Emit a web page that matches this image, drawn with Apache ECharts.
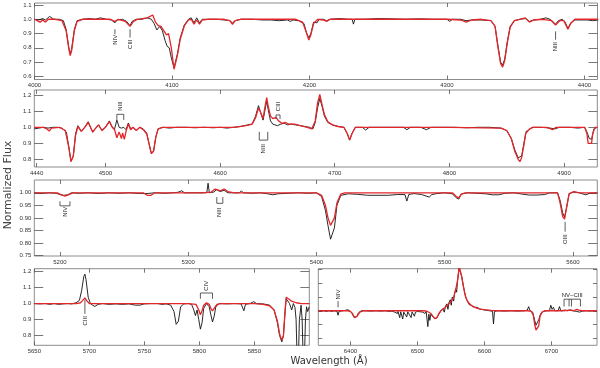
<!DOCTYPE html>
<html>
<head>
<meta charset="utf-8">
<script src="https://cdn.jsdelivr.net/npm/echarts@6/dist/echarts.min.js"></script>
<style>
  html, body { margin: 0; padding: 0; background: #fff; }
  #chart { width: 600px; height: 368px; }
</style>
</head>
<body>
<div id="chart"></div>
<script>
// ---- data: [wavelength (A), normalized flux] ----

// Panel 1: 4000-4410
var P1_OBS = [[4000,1.0],[4003,0.995],[4006,1.005],[4008,0.995],[4011,1.02],[4014,1.0],[4018,1.0],[4021,0.99],[4023,0.93],[4025,0.8],[4026,0.76],[4027,0.79],[4029,0.93],[4031,0.99],[4035,1.0],[4040,1.005],[4044,1.0],[4048,1.01],[4052,1.0],[4056,0.995],[4058.5,0.975],[4060,0.995],[4064,1.0],[4067,0.985],[4069.5,0.955],[4071,0.985],[4074,1.0],[4078,1.0],[4082,1.01],[4085,1.0],[4087,0.97],[4089,0.925],[4091,0.95],[4093,0.92],[4095,0.85],[4096.5,0.81],[4098,0.8],[4099.5,0.73],[4101.5,0.66],[4102.5,0.67],[4104,0.76],[4106,0.87],[4109,0.96],[4112,1.0],[4114,1.01],[4116,0.975],[4118,1.01],[4120,0.975],[4122,1.0],[4126,1.0],[4132,1.0],[4138,0.995],[4142,0.99],[4144,0.975],[4146,0.99],[4150,1.0],[4158,1.0],[4166,0.995],[4172,0.995],[4178,0.99],[4184,0.995],[4186,0.985],[4188,0.995],[4192,0.99],[4196,0.97],[4198,0.9],[4199.5,0.87],[4201,0.9],[4203,0.98],[4205.5,0.975],[4207,1.0],[4210,1.0],[4212.5,0.99],[4215,1.0],[4222,1.005],[4228,1.0],[4231,1.0],[4232,0.966],[4233,1.0],[4240,1.0],[4250,1.005],[4260,1.003],[4270,1.0],[4280,1.003],[4290,1.0],[4300,1.0],[4302,0.985],[4304,1.0],[4310,1.0],[4314,0.99],[4318,0.995],[4325,0.995],[4332,0.99],[4335,0.95],[4337,0.82],[4339,0.7],[4340.5,0.68],[4342,0.72],[4344,0.85],[4346,0.95],[4349,0.99],[4353,1.0],[4357,1.005],[4360,0.985],[4363,0.995],[4368,1.0],[4372,1.01],[4375,1.0],[4377,0.985],[4379,0.965],[4381,0.99],[4384,1.0],[4386,0.98],[4388,0.935],[4390,0.975],[4393,0.995],[4398,0.995],[4402,0.995],[4406,0.99],[4410,0.995]];
var P1_MOD = [[4000,1.0],[4002,0.99],[4004,0.98],[4006,0.995],[4008,0.98],[4010,1.0],[4015,1.0],[4020,0.99],[4023,0.92],[4025,0.79],[4026,0.745],[4027,0.78],[4029,0.92],[4031,0.985],[4035,1.0],[4045,1.0],[4055,1.0],[4058.5,0.985],[4061,1.0],[4066,0.985],[4069.5,0.95],[4072,0.985],[4075,1.0],[4082,1.01],[4086,1.03],[4088,0.98],[4090,0.955],[4092,0.95],[4094,0.92],[4096,0.89],[4097.5,0.9],[4099.5,0.8],[4101.5,0.65],[4102.5,0.655],[4104,0.75],[4106,0.86],[4109,0.955],[4112,0.995],[4114,1.0],[4116,0.965],[4118,0.995],[4120,0.965],[4122,0.995],[4126,1.0],[4138,1.0],[4142,0.99],[4144,0.965],[4146,0.99],[4150,1.0],[4170,1.0],[4190,1.0],[4195,0.98],[4198,0.9],[4199.5,0.855],[4201,0.89],[4203,0.97],[4206,1.0],[4210,0.995],[4212.5,0.985],[4215,1.0],[4250,1.0],[4300,1.0],[4310,0.995],[4314,0.98],[4318,0.995],[4325,1.0],[4332,0.99],[4335,0.95],[4337,0.81],[4339,0.69],[4340.5,0.665],[4342,0.71],[4344,0.84],[4346,0.945],[4349,0.99],[4353,1.0],[4357,1.01],[4360,0.98],[4363,0.995],[4370,1.0],[4376,0.99],[4379,0.96],[4382,0.99],[4385,0.99],[4388,0.93],[4390,0.97],[4393,1.0],[4400,1.0],[4410,1.0]];

// Panel 2: 4438-4929
var P2_OBS = [[4438,0.99],[4442,0.995],[4446,1.0],[4450,0.995],[4454,1.0],[4458,1.0],[4462,0.995],[4466,0.97],[4468,0.88],[4470,0.79],[4471,0.78],[4472,0.82],[4474,0.96],[4476,1.01],[4479,0.975],[4482,1.0],[4485,1.035],[4487,1.0],[4489,0.97],[4491,0.99],[4494,1.015],[4497,0.98],[4500,1.0],[4503.5,1.04],[4506,1.0],[4508,0.99],[4510,1.045],[4512,1.0],[4514,0.995],[4516,1.0],[4518,0.985],[4520,1.027],[4522,0.99],[4524,1.0],[4527,0.98],[4530,1.0],[4533,0.99],[4536,0.965],[4538,0.9],[4540,0.84],[4541,0.83],[4542,0.85],[4544,0.94],[4546,0.99],[4550,1.0],[4556,0.995],[4562,1.0],[4570,1.0],[4578,0.997],[4586,1.0],[4594,0.997],[4600,1.0],[4606,0.995],[4612,1.0],[4618,1.005],[4624,1.015],[4628,1.02],[4631,1.07],[4633.5,1.135],[4635,1.1],[4637.5,1.045],[4639,1.1],[4640.7,1.165],[4642,1.11],[4644,1.04],[4646,1.02],[4648,1.015],[4650,1.01],[4653,1.02],[4656,1.025],[4659,1.015],[4662,1.02],[4666,1.015],[4670,1.01],[4674,1.005],[4678,1.0],[4681,0.99],[4683,1.03],[4685,1.12],[4687,1.18],[4689,1.13],[4691,1.07],[4694,1.03],[4698,1.015],[4703,1.005],[4708,1.0],[4711,0.96],[4713,0.92],[4715,0.96],[4718,1.0],[4724,1.0],[4727,0.983],[4730,1.0],[4740,1.0],[4750,1.0],[4760,1.0],[4763,0.985],[4766,1.0],[4775,1.0],[4780,0.985],[4784,1.0],[4795,1.0],[4805,1.0],[4815,0.997],[4825,1.0],[4835,1.0],[4845,0.995],[4850,0.98],[4854,0.93],[4857,0.86],[4860,0.81],[4861.5,0.8],[4863,0.82],[4865,0.9],[4867,0.975],[4869,0.98],[4872,1.0],[4880,1.0],[4888,0.995],[4892,0.99],[4896,1.0],[4905,1.0],[4912,0.995],[4918,1.0],[4920,0.97],[4922,0.93],[4924,0.925],[4926,0.99],[4929,1.0]];
var P2_MOD = [[4438,1.0],[4446,1.0],[4449,0.99],[4451,0.977],[4453,0.995],[4460,1.0],[4465,0.98],[4468,0.88],[4470,0.785],[4471,0.775],[4472,0.82],[4474,0.95],[4476,1.005],[4479,0.975],[4482,1.0],[4485,1.03],[4487,1.0],[4489,0.97],[4491,0.99],[4494,1.015],[4497,0.98],[4500,1.0],[4503.5,1.035],[4506,1.0],[4508,0.985],[4510,0.935],[4512,0.97],[4514,0.93],[4515,0.965],[4516.5,0.925],[4518,0.975],[4520,1.02],[4522,0.985],[4524,1.0],[4527,0.98],[4530,1.0],[4533,0.985],[4536,0.96],[4538,0.9],[4540,0.835],[4541,0.825],[4542,0.85],[4544,0.94],[4546,0.99],[4550,1.0],[4600,1.0],[4612,1.0],[4624,1.012],[4628,1.02],[4631,1.06],[4633.5,1.12],[4635,1.1],[4637.5,1.055],[4639,1.12],[4640.7,1.185],[4642,1.13],[4644,1.07],[4646,1.055],[4649,1.06],[4651,1.04],[4654,1.025],[4657,1.03],[4660,1.02],[4665,1.02],[4670,1.01],[4676,1.0],[4680,0.99],[4683,1.04],[4685,1.15],[4687,1.205],[4689,1.14],[4691,1.08],[4694,1.035],[4698,1.015],[4703,1.005],[4708,1.0],[4711,0.96],[4713,0.92],[4715,0.96],[4718,1.0],[4800,1.0],[4845,0.995],[4850,0.98],[4854,0.93],[4857,0.85],[4860,0.8],[4861.5,0.785],[4863,0.81],[4865,0.89],[4866.5,0.96],[4868,0.955],[4870,0.99],[4873,1.0],[4885,1.0],[4890,0.985],[4893,1.0],[4918,1.0],[4920,0.96],[4921,0.9],[4924,0.9],[4925,0.96],[4927,1.0],[4929,1.0]];

// Panel 3: 5180-5619
var P3_OBS = [[5180,1.0],[5186,0.998],[5192,1.0],[5197,0.998],[5200,0.993],[5203,0.99],[5206,0.992],[5209,1.0],[5215,0.998],[5222,1.0],[5230,0.997],[5238,1.0],[5246,0.998],[5254,1.0],[5262,0.997],[5268,0.997],[5274,1.0],[5282,0.998],[5288,1.0],[5292,1.002],[5295,1.008],[5297,1.0],[5304,1.0],[5310,1.0],[5314.5,1.0],[5315.5,1.038],[5316.5,1.0],[5320,1.003],[5322,1.012],[5325,1.005],[5328,1.01],[5331,1.0],[5336,1.0],[5340,1.0],[5341.5,1.008],[5343,1.0],[5350,0.998],[5356,1.0],[5362,0.996],[5366,0.992],[5370,0.996],[5378,0.998],[5386,1.0],[5394,0.998],[5400,1.0],[5404,0.985],[5407,0.93],[5409,0.87],[5411,0.815],[5412.5,0.81],[5414,0.86],[5416,0.95],[5419,0.99],[5425,0.996],[5432,0.994],[5440,0.99],[5448,0.99],[5456,0.99],[5463,0.993],[5469,0.993],[5470.5,0.967],[5472,0.993],[5476,0.997],[5482,0.993],[5488,0.983],[5490,0.993],[5494,0.997],[5500,1.0],[5506,0.996],[5509,0.98],[5511,0.975],[5513,0.995],[5518,1.0],[5525,0.998],[5532,0.996],[5537,0.992],[5542,0.992],[5547,0.998],[5554,1.0],[5560,0.995],[5566,0.991],[5572,0.991],[5578,0.993],[5582,1.0],[5588,1.0],[5590,0.97],[5592,0.92],[5593.5,0.903],[5595,0.94],[5597,0.995],[5600,1.003],[5605,1.0],[5610,0.992],[5613,0.998],[5619,1.0]];
var P3_MOD = [[5180,1.0],[5198,1.0],[5201,0.992],[5204,0.987],[5207,0.993],[5210,1.0],[5265,1.0],[5268,0.99],[5271,0.99],[5274,1.0],[5310,1.0],[5318,1.003],[5321,1.015],[5323,1.012],[5325,1.008],[5328,1.015],[5331,1.005],[5336,1.0],[5400,1.0],[5404,0.99],[5407,0.95],[5409,0.9],[5411,0.87],[5412.5,0.868],[5414,0.9],[5416,0.96],[5419,0.995],[5422,1.0],[5506,1.0],[5509,0.985],[5511,0.98],[5513,0.995],[5516,1.0],[5588,1.0],[5590,0.96],[5592,0.905],[5593.5,0.895],[5595,0.94],[5597,0.997],[5601,1.005],[5605,1.0],[5619,1.0]];

// Panel 4: 5650-5900
var P4_OBS = [[5650,1.0],[5655,0.998],[5660,1.0],[5664,0.995],[5668,1.0],[5672,0.995],[5676,0.998],[5680,1.0],[5684,0.998],[5688,1.005],[5691,1.02],[5693,1.08],[5695,1.17],[5696,1.184],[5697,1.15],[5699,1.04],[5701,1.0],[5703,0.99],[5705,0.982],[5708,0.995],[5712,1.0],[5718,0.995],[5724,0.998],[5730,0.995],[5736,0.998],[5742,0.99],[5746,0.99],[5750,0.998],[5756,1.0],[5762,1.0],[5766,0.995],[5770,0.998],[5774,0.99],[5777,0.95],[5779,0.87],[5780,0.865],[5781,0.89],[5783,0.98],[5786,0.998],[5790,1.0],[5793,0.995],[5795,0.96],[5796.5,0.925],[5798,0.96],[5799.5,0.9],[5801,0.84],[5802.5,0.88],[5804,0.97],[5806.5,1.0],[5809,0.98],[5810.5,0.93],[5812,0.885],[5813.5,0.92],[5815,0.98],[5818,1.0],[5825,0.998],[5832,1.0],[5838,0.998],[5840.5,0.955],[5842,0.995],[5846,1.0],[5849.5,1.012],[5852,1.0],[5858,0.998],[5864,0.99],[5868,0.96],[5871,0.88],[5873,0.8],[5875,0.76],[5876.5,0.8],[5878,0.95],[5879,1.03],[5880.5,1.02],[5882,1.0],[5884,0.96],[5885.5,1.0],[5887,0.975],[5888,0.9],[5889.5,0.5],[5891,0.9],[5892.5,0.99],[5893.5,0.9],[5895,0.5],[5896.5,0.9],[5897.5,0.98],[5898.5,0.95],[5900,0.98]];
var P4_MOD = [[5650,1.0],[5688,1.0],[5692,1.005],[5694,1.02],[5696,1.036],[5698,1.015],[5700,1.0],[5790,1.0],[5797,0.995],[5799.5,0.96],[5801,0.93],[5802.5,0.955],[5804,0.99],[5806.5,1.005],[5809,0.995],[5810.5,0.97],[5812,0.955],[5813.5,0.97],[5816,0.995],[5820,1.0],[5850,1.0],[5858,0.995],[5864,0.985],[5868,0.96],[5871,0.89],[5873,0.81],[5875,0.77],[5876.5,0.8],[5878,0.96],[5879,1.04],[5881,1.03],[5884,1.015],[5888,1.005],[5893,1.0],[5900,1.0]];

// Panel 5: 6352-6768
var P5_OBS = [[6352,1.0],[6356,0.995],[6360,1.0],[6364,0.99],[6368,1.0],[6372,0.99],[6376,1.0],[6380,0.99],[6381.5,0.935],[6383,0.99],[6388,1.0],[6392,1.005],[6396,1.015],[6399,1.0],[6402,0.97],[6405,0.91],[6407,0.89],[6409,0.91],[6412,0.97],[6416,1.0],[6422,1.0],[6430,0.995],[6438,1.0],[6445,0.995],[6452,1.0],[6458,0.99],[6462,0.995],[6466,0.98],[6468,0.995],[6470,0.96],[6471,0.99],[6473.5,0.9],[6475,0.985],[6478,0.88],[6479.5,0.98],[6482,0.99],[6484,0.91],[6485.5,0.985],[6488,0.97],[6490.5,0.9],[6492,0.98],[6494,0.96],[6495.5,0.92],[6497,0.98],[6500,0.99],[6504,0.985],[6508,0.98],[6511,0.96],[6513,0.99],[6515.5,0.77],[6517,0.95],[6518.5,0.86],[6520,0.95],[6523,0.91],[6526,0.885],[6529,0.9],[6532,0.95],[6535,1.0],[6538,1.03],[6540,0.98],[6542,1.07],[6544,1.1],[6545.5,1.02],[6547,1.12],[6549,1.16],[6550.5,1.08],[6552,1.2],[6554,1.14],[6555.5,1.25],[6557,1.32],[6558.5,1.27],[6560,1.45],[6562,1.62],[6564,1.62],[6566,1.5],[6567.5,1.42],[6569,1.34],[6571,1.24],[6573,1.17],[6575.5,1.13],[6577,1.09],[6578,1.11],[6580,1.08],[6583,1.06],[6586,1.05],[6588,1.03],[6589,1.05],[6593,1.025],[6598,1.015],[6603,1.005],[6608,1.0],[6612,0.99],[6613.5,0.81],[6615,0.99],[6620,1.0],[6630,0.995],[6640,1.0],[6650,0.995],[6660,1.0],[6664,1.01],[6666,1.06],[6668,1.0],[6672,0.98],[6675,0.86],[6677,0.79],[6679,0.79],[6681,0.87],[6684,0.96],[6688,0.99],[6693,1.0],[6697,1.0],[6699,1.08],[6701,1.02],[6703,1.05],[6705,1.0],[6710,1.0],[6712,1.06],[6714,1.0],[6720,1.0],[6726,1.01],[6732,1.0],[6738,0.99],[6742,0.98],[6746,0.995],[6752,1.0],[6758,0.995],[6764,1.0],[6768,0.995]];
var P5_MOD = [[6352,1.0],[6395,1.0],[6400,0.99],[6403,0.96],[6406,0.9],[6408,0.89],[6410,0.92],[6414,0.98],[6420,1.0],[6510,1.0],[6515,0.99],[6520,0.96],[6523,0.92],[6526,0.885],[6529,0.9],[6532,0.96],[6535,1.0],[6540,1.04],[6545,1.08],[6550,1.13],[6554,1.2],[6557,1.3],[6560,1.45],[6562.5,1.64],[6564,1.64],[6566,1.5],[6568,1.38],[6570,1.28],[6572,1.2],[6575,1.13],[6579,1.09],[6583,1.06],[6588,1.04],[6594,1.025],[6600,1.015],[6610,1.005],[6620,1.0],[6665,1.0],[6670,0.99],[6673,0.93],[6675,0.8],[6677,0.72],[6679,0.71],[6681,0.78],[6683,0.92],[6686,0.98],[6690,1.0],[6715,1.0],[6720,1.01],[6724,1.0],[6728,1.012],[6733,1.0],[6738,1.02],[6741,1.01],[6745,1.0],[6768,1.0]];

// Tick values
var P1_XTICKS = [4000, 4100, 4200, 4300, 4400];
var P1_YTICKS = [0.6, 0.7, 0.8, 0.9, 1.0, 1.1];
var P2_XTICKS = [4440, 4500, 4600, 4700, 4800, 4900];
var P2_YTICKS = [0.8, 0.9, 1.0, 1.1, 1.2];
var P3_XTICKS = [5200, 5300, 5400, 5500, 5600];
var P3_YTICKS = [0.75, 0.80, 0.85, 0.90, 0.95, 1.00];
var P4_XTICKS = [5650, 5700, 5750, 5800, 5850];
var P4_YTICKS = [0.8, 0.9, 1.0, 1.1, 1.2];
var P5_XTICKS = [6400, 6500, 6600, 6700];
var P5_YTICKS = [0.6, 0.8, 1.0, 1.2, 1.4, 1.6];

// Line identifications: waves, y of bar/top, y of tips, y of label
var P1_NOTES = [
    { text: 'NIV', waves: [4058.5], bar: 0.93, tip: 0.895, at: 0.857 },
    { text: 'CIII', waves: [4069.5], bar: 0.93, tip: 0.872, at: 0.825 },
    { text: 'NIII', waves: [4379], bar: 0.915, tip: 0.857, at: 0.808 }
];
var P2_NOTES = [
    { text: 'NIII', waves: [4510, 4516], bar: 1.081, tip: 1.046, at: 1.132 },
    { text: 'NIII', waves: [4634.2, 4641.6], bar: 0.92, tip: 0.972, at: 0.866 },
    { text: 'CIII', waves: [4648.8, 4652.3], bar: 1.077, tip: 1.052, at: 1.13 }
];
var P3_NOTES = [
    { text: 'NIV', waves: [5200, 5207.8], bar: 0.948, tip: 0.966, at: 0.924 },
    { text: 'NIII', waves: [5322.3, 5327], bar: 0.958, tip: 0.983, at: 0.922 },
    { text: 'OIII', waves: [5593.9], bar: 0.884, tip: 0.845, at: 0.815 }
];
var P4_NOTES = [
    { text: 'CIII', waves: [5696], bar: 1.025, tip: 0.936, at: 0.892 },
    { text: 'CIV', waves: [5801, 5812], bar: 1.066, tip: 1.03, at: 1.112 }
];
var P5_NOTES = [
    { text: 'NIV', waves: [6381.5], bar: 1.14, tip: 1.05, at: 1.236 },
    { text: 'NV\u2013CIII', waves: [6718.8, 6726.3, 6729.9, 6743.3], bar: 1.168, tip: 1.062, at: 1.217, flat: true }
];

// ---- layout ----
var FONT = 'Liberation Sans';
var FRAME = '#8c8c8c';
var TICK = '#555';

var PANELS = [
    { obs: P1_OBS, mod: P1_MOD, notes: P1_NOTES, xr: [4000, 4409.5], yr: [0.578, 1.114], xt: P1_XTICKS, yt: P1_YTICKS, dec: 1, ytl: 9,
      grid: { left: 34.5, top: 3, width: 563, height: 76.5 } },
    { obs: P2_OBS, mod: P2_MOD, notes: P2_NOTES, xr: [4438, 4929], yr: [0.752, 1.233], xt: P2_XTICKS, yt: P2_YTICKS, dec: 1, ytl: 9,
      grid: { left: 34.3, top: 90, width: 563, height: 77 } },
    { obs: P3_OBS, mod: P3_MOD, notes: P3_NOTES, xr: [5180, 5619], yr: [0.748, 1.051], xt: P3_XTICKS, yt: P3_YTICKS, dec: 2, ytl: 9,
      grid: { left: 34.3, top: 180, width: 563, height: 76 } },
    { obs: P4_OBS, mod: P4_MOD, notes: P4_NOTES, xr: [5650, 5900], yr: [0.739, 1.218], xt: P4_XTICKS, yt: P4_YTICKS, dec: 1, ytl: 9,
      grid: { left: 34.3, top: 268.7, width: 275, height: 76.6 } },
    { obs: P5_OBS, mod: P5_MOD, notes: P5_NOTES, xr: [6352, 6768], yr: [0.498, 1.611], xt: P5_XTICKS, yt: P5_YTICKS, dec: 1, ytl: 4, noLabels: true,
      grid: { left: 318.3, top: 268.7, width: 278.7, height: 76.6 } }
];

function noteRenderer(notes) {
    return function (params, api) {
        var n = notes[params.dataIndex];
        var kids = [];
        var ls = { stroke: '#333', lineWidth: 0.8 };
        function seg(a, b) {
            kids.push({ type: 'line', shape: { x1: a[0], y1: a[1], x2: b[0], y2: b[1] }, style: ls });
        }
        var w0 = n.waves[0], w1 = n.waves[n.waves.length - 1];
        if (n.waves.length === 1) {
            seg(api.coord([w0, n.bar]), api.coord([w0, n.tip]));
        } else {
            seg(api.coord([w0, n.bar]), api.coord([w1, n.bar]));
            n.waves.forEach(function (w) { seg(api.coord([w, n.bar]), api.coord([w, n.tip])); });
        }
        var c = api.coord([(w0 + w1) / 2, n.at]);
        kids.push({
            type: 'text', x: c[0], y: c[1], rotation: n.flat ? 0 : Math.PI / 2,
            style: { text: n.text, fill: '#222', font: '6px "' + FONT + '"', align: 'center', verticalAlign: 'middle' }
        });
        return { type: 'group', children: kids };
    };
}

var grids = [], xAxes = [], yAxes = [], series = [];

PANELS.forEach(function (p, i) {
    grids.push(Object.assign({ show: true, borderColor: FRAME, borderWidth: 1, containLabel: false }, p.grid));

    var xBase = {
        type: 'value', gridIndex: i, min: p.xr[0], max: p.xr[1],
        axisLine: { show: false }, splitLine: { show: false },
        axisTick: { inside: true, length: 4, customValues: p.xt, lineStyle: { color: TICK, width: 0.8 } }
    };
    xAxes.push(Object.assign({}, xBase, {
        position: 'bottom',
        axisLabel: {
            customValues: p.xt, fontSize: 6, color: '#333', fontFamily: FONT, margin: 3,
            formatter: function (v) { return String(Math.round(v)); }
        }
    }));
    xAxes.push(Object.assign({}, xBase, { position: 'top', axisLabel: { show: false } }));

    var yBase = {
        type: 'value', gridIndex: i, min: p.yr[0], max: p.yr[1],
        axisLine: { show: false }, splitLine: { show: false },
        axisTick: { inside: true, length: p.ytl, customValues: p.yt, lineStyle: { color: TICK, width: 0.8 } }
    };
    yAxes.push(Object.assign({}, yBase, {
        position: 'left',
        axisLabel: p.noLabels ? { show: false } : {
            customValues: p.yt, fontSize: 6, color: '#333', fontFamily: FONT, margin: 3,
            formatter: function (v) { return v.toFixed(p.dec); }
        }
    }));
    yAxes.push(Object.assign({}, yBase, { position: 'right', axisLabel: { show: false } }));

    var xi = 2 * i, yi = 2 * i;
    series.push({
        type: 'line', xAxisIndex: xi, yAxisIndex: yi, data: p.obs, symbol: 'none', clip: true,
        lineStyle: { color: '#111', width: 0.9 }, z: 2, silent: true
    });
    series.push({
        type: 'line', xAxisIndex: xi, yAxisIndex: yi, data: p.mod, symbol: 'none', clip: true,
        lineStyle: { color: '#e3262a', width: 1.3 }, z: 3, silent: true
    });
    series.push({
        type: 'custom', xAxisIndex: xi, yAxisIndex: yi, clip: false, silent: true, z: 4,
        data: p.notes.map(function (n) { return [n.waves[0], n.at]; }),
        renderItem: noteRenderer(p.notes)
    });
});

var chart = echarts.init(document.getElementById('chart'), null, { renderer: 'canvas' });
chart.setOption({
    animation: false,
    backgroundColor: '#fff',
    grid: grids,
    xAxis: xAxes,
    yAxis: yAxes,
    series: series,
    graphic: [
        { type: 'text', x: 8, y: 185, rotation: Math.PI / 2,
          style: { text: 'Normalized Flux', fill: '#444', font: '11px "DejaVu Sans"', align: 'center', verticalAlign: 'middle' } },
        { type: 'text', x: 329, y: 361,
          style: { text: 'Wavelength (\u00c5)', fill: '#333', font: '10px "DejaVu Sans"', align: 'center', verticalAlign: 'middle' } }
    ]
});
</script>
</body>
</html>
